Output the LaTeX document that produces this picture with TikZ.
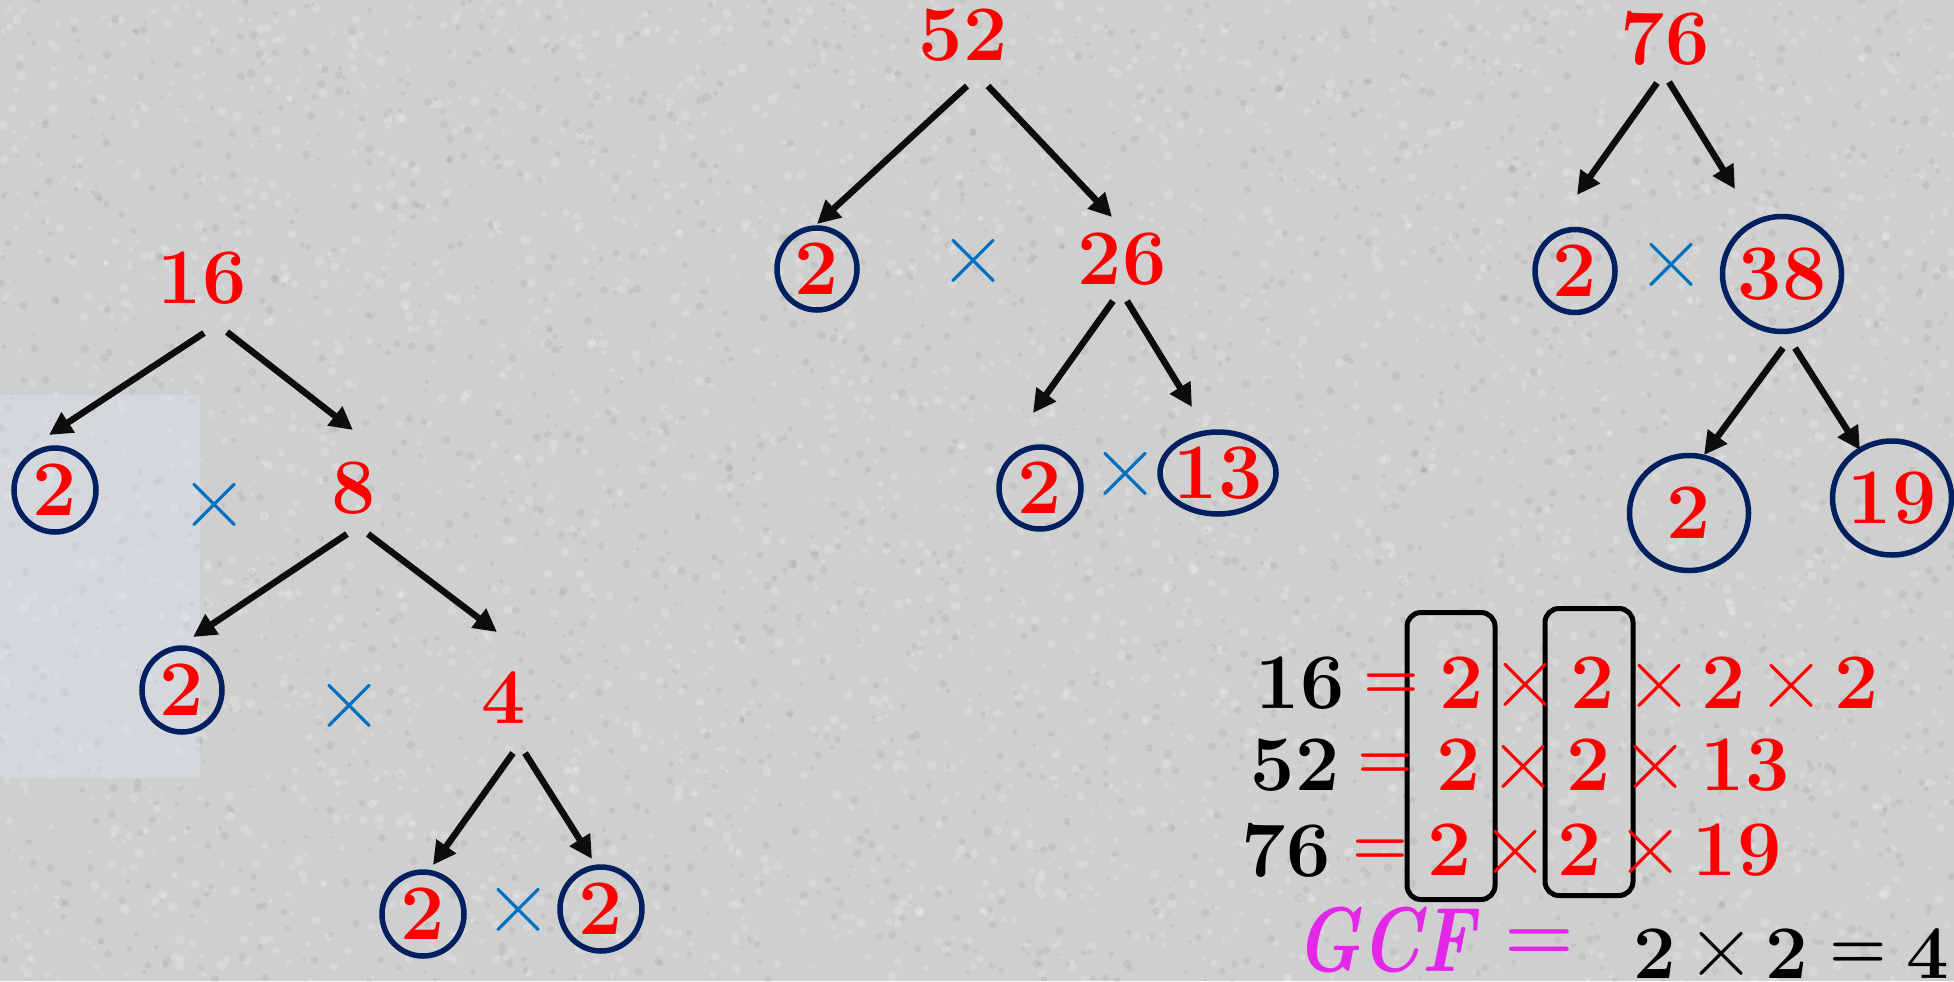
\documentclass[tikz,border=0pt]{standalone}
\usepackage{fontspec}
\usepackage{graphicx}
\usetikzlibrary{arrows.meta,shapes.geometric,calc}

\definecolor{numred}{RGB}{255,0,0}
\definecolor{ringblue}{RGB}{0,32,96}
\definecolor{timesblue}{RGB}{0,112,192}
\definecolor{gcfpink}{RGB}{228,38,232}
\definecolor{paper}{RGB}{207,207,207}
\definecolor{panel}{RGB}{222,230,242}
\definecolor{inkblack}{RGB}{13,13,13}

% zero-width box so that the ring size is set only by its minimum dimensions
\newcommand{\zw}[1]{\makebox[0pt]{#1}}

\tikzset{
  num/.style={text=numred, font=\fontsize{79}{79}\selectfont\bfseries, inner sep=0pt},
  ring/.style={num, ellipse, draw=ringblue, line width=5.5bp},
  times/.style={text=timesblue, font=\fontsize{95}{95}\selectfont, inner sep=0pt},
  arr/.style={draw=inkblack, line width=6.5bp, -{Triangle[length=23bp,width=23bp]}},
  factor/.style={text=numred, font=\fontsize{79}{79}\selectfont\bfseries, inner sep=0pt},
  prime/.style={text=black, font=\fontsize{79}{79}\selectfont\bfseries, inner sep=0pt},
  op/.style={text=numred, font=\fontsize{95}{95}\selectfont, inner sep=0pt},
  eq/.style={text=numred, font=\fontsize{64}{64}\selectfont\bfseries, inner sep=0pt},
  pick/.style={draw=black, line width=5bp, rounded corners=14bp, minimum width=88bp, minimum height=287bp, inner sep=0pt},
}

\begin{document}
\begin{tikzpicture}[x=1bp, y=-1bp]
  % granite-like paper
  \fill[paper] (0,0) rectangle (1954,981);
  \useasboundingbox (0,0) rectangle (1954,981);
  \pgfmathsetseed{20231}
  \foreach \i in {1,...,3200} {
    \pgfmathsetmacro{\px}{rnd*1954}
    \pgfmathsetmacro{\py}{rnd*981}
    \pgfmathsetmacro{\pr}{1.5+rnd*3.5}
    \fill[white, opacity=0.18] (\px,\py) circle[radius=\pr];
  }
  \foreach \i in {1,...,2200} {
    \pgfmathsetmacro{\px}{rnd*1954}
    \pgfmathsetmacro{\py}{rnd*981}
    \pgfmathsetmacro{\pr}{1.5+rnd*3}
    \fill[black, opacity=0.05] (\px,\py) circle[radius=\pr];
  }
  \fill[panel, opacity=.38] (0,395) rectangle (200,778);

  % ---------- 16 ----------
  \node[num] (n16) at (202,278) {16};
  \node[ring, minimum width=82bp, minimum height=84bp] (r16a) at (55,490) {\zw{2}};
  \node[times] (x16a) at (215,506) {×};
  \node[num] (n8) at (354,488) {8};
  \node[ring, minimum width=80bp, minimum height=84bp] (r8a) at (182,690) {\zw{2}};
  \node[times] (x8a) at (350,707) {×};
  \node[num] (n4) at (504,698) {4};
  \node[ring, minimum width=82bp, minimum height=84bp] (r4a) at (423,914) {\zw{2}};
  \node[times] (x4a) at (519,911) {×};
  \node[ring, minimum width=82bp, minimum height=84bp] (r4b) at (601,909) {\zw{2}};

  \draw[arr] ($(n16)+(2,55)$) -- ($(r16a)+(-6,-55)$);
  \draw[arr] ($(n16)+(25,54)$) -- ($(n8)+(-1,-58)$);
  \draw[arr] ($(n8)+(-7,46)$) -- ($(r8a)+(11,-53)$);
  \draw[arr] ($(n8)+(14,46)$) -- ($(n4)+(-7,-66)$);
  \draw[arr] ($(n4)+(9,55)$) -- ($(r4a)+(10,-49)$);
  \draw[arr] ($(n4)+(21,55)$) -- ($(r4b)+(-9,-50)$);

  % ---------- 52 ----------
  \node[num] (n52) at (963,35) {52};
  \node[ring, minimum width=80bp, minimum height=82bp] (r52a) at (817,269) {\zw{2}};
  \node[times] (x52a) at (974,262) {×};
  \node[num] (n26) at (1122,259) {26};
  \node[ring, minimum width=82bp, minimum height=82bp] (r26a) at (1040,488) {\zw{2}};
  \node[times] (x26a) at (1126,475) {×};
  \node[ring, minimum width=116bp, minimum height=82bp] (r26b) at (1218,473) {\zw{13}};

  \draw[arr] ($(n52)+(4,51)$) -- ($(r52a)+(0,-45)$);
  \draw[arr] ($(n52)+(25,51)$) -- ($(n26)+(-10,-42)$);
  \draw[arr] ($(n26)+(-9,42)$) -- ($(r26a)+(-7,-75)$);
  \draw[arr] ($(n26)+(5,42)$) -- ($(r26b)+(-26,-66)$);

  % ---------- 76 ----------
  \node[num] (n76) at (1665,38) {76};
  \node[ring, minimum width=80bp, minimum height=83bp] (r76a) at (1575,271) {\zw{2}};
  \node[times] (x76a) at (1672,266) {×};
  \node[ring, minimum width=119bp, minimum height=115bp] (r38) at (1782,274) {\zw{38}};
  \node[ring, minimum width=119bp, minimum height=115bp] (r38a) at (1689,513) {\zw{2}};
  \node[ring, minimum width=119bp, minimum height=114bp] (r38b) at (1892,498) {\zw{19}};

  \draw[arr] ($(n76)+(-8,45)$) -- ($(r76a)+(2,-76)$);
  \draw[arr] ($(n76)+(4,44)$) -- ($(r38)+(-47,-85)$);
  \draw[arr] ($(r38)+(1,74)$) -- ($(r38a)+(15,-58)$);
  \draw[arr] ($(r38)+(13,74)$) -- ($(r38b)+(-32,-48)$);

  % ---------- prime factorisations ----------
  \node[pick] (col1) at (1451,756) {};
  \node[pick] (col2) at (1589,752) {};

  % 16 = 2 x 2 x 2 x 2
  \node[prime] (p16) at (1300,683) {16};
  \node[eq] (e16) at (1391,686) {=};
  \node[factor] (f16a) at (1462,683) {2};
  \node[op] (o16a) at (1526,686) {×};
  \node[factor] (f16b) at (1593,683) {2};
  \node[op] (o16b) at (1660,687) {×};
  \node[factor] (f16c) at (1724,683) {2};
  \node[op] (o16c) at (1792,687) {×};
  \node[factor] (f16d) at (1857,683) {2};

  % 52 = 2 x 2 x 13
  \node[prime] (p52) at (1295,765) {52};
  \node[eq] (e52) at (1385,766) {=};
  \node[factor] (f52a) at (1459,765) {2};
  \node[op] (o52a) at (1524,768) {×};
  \node[factor] (f52b) at (1589,765) {2};
  \node[op] (o52b) at (1656,768) {×};
  \node[factor] (f52c) at (1745,765) {13};

  % 76 = 2 x 2 x 19
  \node[prime] (p76) at (1286,850) {76};
  \node[eq] (e76) at (1380,852) {=};
  \node[factor] (f76a) at (1450,850) {2};
  \node[op] (o76a) at (1516,853) {×};
  \node[factor] (f76b) at (1580,850) {2};
  \node[op] (o76b) at (1651,853) {×};
  \node[factor] (f76c) at (1737,850) {19};

  % GCF = 2 x 2 = 4
  \node[text=gcfpink, inner sep=0pt, font=\fontsize{92}{92}\selectfont\bfseries\itshape] (gcf) at (1385,940) {\scalebox{0.8}[1]{GCF}};
  \node[text=gcfpink, inner sep=0pt, font=\fontsize{80}{80}\selectfont\bfseries] (gcfeq) at (1539,945) {=};
  \node[prime, font=\fontsize{76}{76}\selectfont\bfseries] (g1) at (1655,954) {2};
  \node[text=black, inner sep=0pt, font=\fontsize{95}{95}\selectfont] (gx) at (1722,955) {×};
  \node[prime, font=\fontsize{76}{76}\selectfont\bfseries] (g2) at (1787,954) {2};
  \node[text=black, inner sep=0pt, font=\fontsize{66}{66}\selectfont\bfseries] (geq) at (1858,956) {=};
  \node[prime, font=\fontsize{76}{76}\selectfont\bfseries] (g4) at (1928,954) {4};
\end{tikzpicture}
\end{document}
